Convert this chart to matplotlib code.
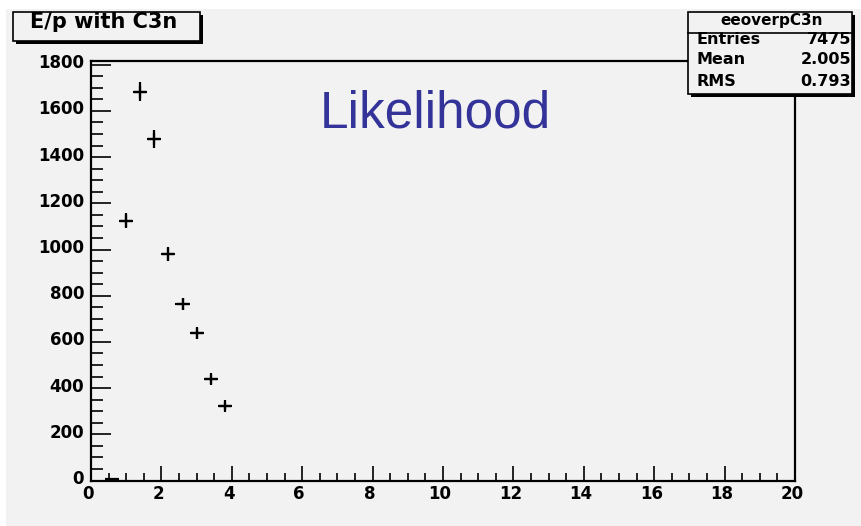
import numpy as np
import matplotlib
matplotlib.use("Agg")
import matplotlib.pyplot as plt
from matplotlib.patches import Rectangle
from matplotlib.ticker import MultipleLocator
import matplotlib.transforms as mtransforms

# ---- data ----
bin_centers = [0.6, 1.0, 1.4, 1.8, 2.2, 2.6, 3.0, 3.4, 3.8]
counts = [8, 1125, 1683, 1478, 980, 764, 637, 438, 324]
bin_half_width = 0.2
y_ticks = [0, 200, 400, 600, 800, 1000, 1200, 1400, 1600, 1800]
x_ticks = [0, 2, 4, 6, 8, 10, 12, 14, 16, 18, 20]
title_text = "E/p with C3n"
stats_name = "eeoverpC3n"
stats_labels = ["Entries", "Mean", "RMS"]
stats_values = ["7475", "2.005", "0.793"]
overlay_text = "Likelihood"

W, H = 862, 526
BG = "#f2f2f2"

fig = plt.figure(figsize=(W / 100, H / 100), dpi=100)
fig.patch.set_facecolor("white")

def fx(px):
    return px / W

def fy(py):
    return 1 - py / H

# gray background (white strips at top and left)
fig.add_artist(Rectangle((fx(6), 0), 1 - fx(6), fy(9), transform=fig.transFigure,
                         facecolor=BG, edgecolor="none", zorder=0))

ax = fig.add_axes([fx(91), fy(481), fx(795) - fx(91), fy(61) - fy(481)])
ax.set_facecolor(BG)
ax.set_xlim(0, 20)
ax.set_ylim(-2, 1816)

ax.errorbar(bin_centers, counts, xerr=bin_half_width, yerr=np.sqrt(counts),
            fmt="none", ecolor="black", elinewidth=1.6, capsize=0)
ax.plot(bin_centers[1:], counts[1:], linestyle="none", marker="+", markersize=8.5,
        markeredgewidth=1.6, color="black")

for s in ax.spines.values():
    s.set_linewidth(1.6)
    s.set_color("black")

ax.set_xticks(x_ticks)
ax.set_yticks(y_ticks)
ax.xaxis.set_minor_locator(MultipleLocator(0.5))
ax.yaxis.set_minor_locator(MultipleLocator(50))
ax.tick_params(axis="both", which="both", direction="in", top=False, right=False,
               width=1.2, color="black")
ax.tick_params(axis="y", which="major", length=14.5, pad=5)
ax.tick_params(axis="y", which="minor", length=8.5)
ax.tick_params(axis="x", which="major", length=11, pad=3)
ax.tick_params(axis="x", which="minor", length=6)

for lab in ax.get_yticklabels() + ax.get_xticklabels():
    lab.set_fontfamily("DejaVu Sans")
    lab.set_fontweight("bold")
    lab.set_fontsize(12)

off_y = mtransforms.ScaledTranslation(0, 3.5 / 100, fig.dpi_scale_trans)
for t in ax.yaxis.get_major_ticks():
    t.label1.set_transform(t.label1.get_transform() + off_y)
off_x = mtransforms.ScaledTranslation(-3 / 100, 0, fig.dpi_scale_trans)
for t in ax.xaxis.get_major_ticks():
    t.label1.set_transform(t.label1.get_transform() + off_x)

# overlay text
fig.text(fx(320), fy(127), overlay_text, fontsize=37, color="#333399",
         family="Liberation Sans", ha="left", va="baseline")

# ---- boxes with shadow ----
def shadow_box(x0, y0, x1, y1, z=10):
    fig.add_artist(Rectangle((fx(x0 + 3), fy(y1 + 3)), fx(x1 - x0), fy(y0) - fy(y1),
                             transform=fig.transFigure, facecolor="black",
                             edgecolor="none", zorder=z))
    fig.add_artist(Rectangle((fx(x0), fy(y1)), fx(x1 - x0), fy(y0) - fy(y1),
                             transform=fig.transFigure, facecolor=BG,
                             edgecolor="black", linewidth=1.2, zorder=z + 1))

shadow_box(13, 12, 200, 41)
fig.text(fx(104), fy(22), title_text, fontsize=15, fontweight="bold",
         family="DejaVu Sans", ha="center", va="center", zorder=20)

shadow_box(688, 12, 852, 94)
fig.add_artist(plt.Line2D([fx(688), fx(852)], [fy(33), fy(33)], transform=fig.transFigure,
                          color="black", linewidth=1.2, zorder=20))
fig.text(fx(772), fy(20), stats_name, fontsize=11, fontweight="bold",
         family="DejaVu Sans", ha="center", va="center", zorder=20)
row_y = [39, 60, 81]
for lab, val, ry in zip(stats_labels, stats_values, row_y):
    fig.text(fx(697), fy(ry), lab, fontsize=11.5, fontweight="bold",
             family="DejaVu Sans", ha="left", va="center", zorder=20)
    fig.text(fx(851), fy(ry), val, fontsize=11.5, fontweight="bold",
             family="DejaVu Sans", ha="right", va="center", zorder=20)

fig.savefig("out.png", dpi=100, facecolor=fig.get_facecolor())
